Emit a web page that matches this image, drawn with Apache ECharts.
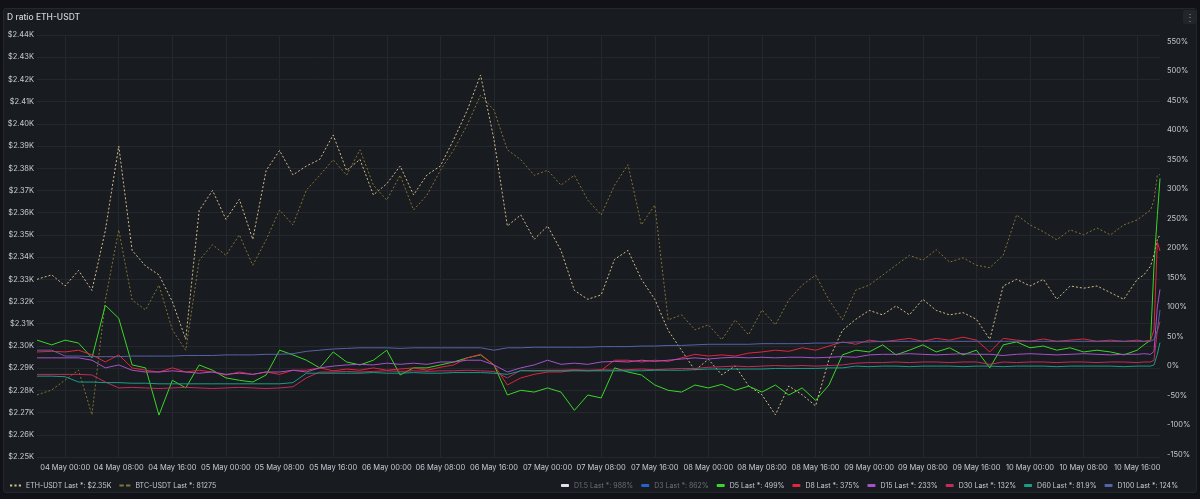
<!DOCTYPE html>
<html>
<head>
<meta charset="utf-8">
<script src="https://cdn.jsdelivr.net/npm/echarts@6/dist/echarts.min.js"></script>
<style>
  html, body { margin: 0; padding: 0; background: #111217; }
  #panel { position: absolute; left: 3px; top: 8px; width: 1192px; height: 483px;
           background: #181b1f; border: 1px solid #24272d; border-radius: 3px; }
  #menu { position: absolute; left: 1183px; top: 10px; width: 13px; height: 14px;
          background: #22252b; border-radius: 2px; color: #8e9199; font: 10px Inter;
          text-align: center; line-height: 14px; }
  #chart { position: absolute; left: 0; top: 0; width: 1200px; height: 499px; }
</style>
</head>
<body>
<div id="panel"></div>
<div id="menu">&#8942;</div>
<div id="chart"></div>
<script>
// hours since 04 May 00:00
var hours = [-4.2, -2, 0, 2, 4, 6, 8, 10, 12, 14, 16, 18, 20, 22, 24, 26, 28, 30, 32, 34, 36, 38, 40,
  42, 44, 46, 48, 50, 52, 54, 56, 58, 60, 62, 64, 66, 68, 70, 72, 74, 76, 78, 80, 82, 84, 86, 88, 90,
  92, 94, 96, 98, 100, 102, 104, 106, 108, 110, 112, 114, 116, 118, 120, 122, 124, 126, 128, 130,
  132, 134, 136, 138, 140, 142, 144, 146, 148, 150, 152, 154, 156, 158, 160, 161, 162, 162.5, 163, 163.4];

var ethUsdt = [2330, 2332, 2327, 2334, 2325, 2352, 2390, 2343, 2336, 2332, 2320, 2303, 2361, 2370,
  2357, 2366, 2348, 2379, 2388, 2377, 2381, 2384, 2395, 2379, 2384, 2368, 2373, 2381, 2368, 2377,
  2381, 2393, 2406, 2422, 2393, 2354, 2359, 2348, 2354, 2343, 2325, 2321, 2323, 2339, 2343, 2330,
  2321, 2307, 2298, 2289, 2294, 2287, 2291, 2282, 2278, 2269, 2282, 2278, 2273, 2294, 2307, 2312,
  2316, 2314, 2318, 2314, 2321, 2316, 2314, 2315, 2312, 2303, 2327, 2330, 2327, 2330, 2321, 2327,
  2326, 2327, 2324, 2321, 2330, 2332, 2336, 2341, 2348, 2350];

var btcUsdt = [79500, 79540, 79620, 79700, 79340, 80265, 80830, 80265, 80185, 80385, 80025, 79860,
  80585, 80710, 80625, 80790, 80545, 80750, 80990, 80870, 81150, 81270, 81395, 81270, 81475, 81190,
  81070, 81270, 80990, 81110, 81310, 81475, 81675, 81915, 81795, 81475, 81395, 81270, 81310, 81190,
  81270, 81070, 80950, 81190, 81355, 80870, 81030, 80105, 80145, 80025, 80065, 79945, 80105, 79985,
  80185, 80065, 80265, 80385, 80465, 80265, 80105, 80345, 80385, 80465, 80545, 80625, 80585, 80670,
  80570, 80605, 80545, 80525, 80625, 80950, 80870, 80815, 80750, 80830, 80790, 80845, 80790, 80870,
  80910, 80950, 80990, 81070, 81270, 81275];

var d5 = [44, 36, 44, 39, 14, 103, 81, 2, -3, -83, -24, -37, 2, -7, -20, -24, -27, -15, 27, 19, 10,
  -3, 24, 7, 2, 10, 27, -15, -3, -3, 2, 7, 14, 19, 2, -49, -41, -44, -37, -44, -75, -49, -54, -3,
  -10, -15, -32, -41, -44, -32, -37, -31, -41, -34, -44, -32, -49, -37, -58, -32, 19, 27, 24, 36,
  19, 27, 36, 24, 31, 19, 27, -3, 36, 41, 31, 34, 27, 31, 24, 27, 24, 19, 27, 36, 44, 170, 255, 318];

var d8 = [24, 25, 24, 27, 19, 7, 19, -3, -7, -10, -3, -10, -7, -10, -15, -10, -14, -10, -14, -7, -7,
  -3, -8, -5, -7, -3, -7, -5, -3, -7, -2, 2, 14, 20, 2, -32, -20, -14, -10, -10, -7, -8, -7, 10, 10,
  7, 10, 8, 14, 20, 17, 19, 17, 22, 24, 27, 25, 31, 27, 34, 41, 37, 44, 41, 44, 47, 42, 47, 44, 49,
  44, 24, 47, 44, 42, 46, 42, 44, 46, 42, 44, 42, 44, 42, 44, 61, 210, 195];

var d15 = [14, 14, 14, 14, 10, -3, 2, -7, -10, -10, -8, -10, -12, -10, -14, -12, -14, -10, -10, -7,
  -10, -3, 0, 2, 3, 2, 5, 3, 5, 3, 7, 7, 10, 10, 2, -10, -3, 2, 10, 3, 5, 3, 7, 8, 7, 10, 8, 10, 12,
  14, 12, 14, 15, 14, 15, 14, 15, 15, 14, 15, 16, 15, 19, 20, 20, 21, 20, 19, 20, 21, 20, 20, 18,
  20, 21, 20, 19, 20, 21, 20, 19, 20, 20, 21, 20, 25, 100, 130];

var d30 = [-14, -14, -14, -14, -15, -27, -37, -36, -37, -38, -37, -36, -37, -38, -37, -36, -37, -38,
  -37, -35, -20, -10, -10, -9, -10, -9, -8, -9, -8, -9, -8, -8, -7, -8, -9, -20, -7, -8, -7, -7, -6,
  -7, -6, -7, -6, -5, -6, -5, -4, -4, -2, -1, 0, -1, 0, 1, 0, 1, 0, 1, 2, 5, 6, 6, 7, 6, 7, 7, 6, 7,
  7, 3, 7, 6, 7, 7, 6, 7, 7, 6, 7, 7, 6, 7, 7, 10, 60, 75];

var d60 = [-17, -17, -18, -27, -27, -28, -28, -29, -29, -30, -30, -30, -30, -30, -30, -30, -30, -30,
  -30, -28, -12, -12, -12, -12, -12, -11, -12, -12, -11, -12, -12, -11, -11, -11, -12, -14, -8, -8,
  -8, -8, -8, -8, -8, -8, -8, -8, -7, -7, -7, -6, -5, -5, -5, -5, -5, -4, -4, -4, -4, -3, -3, 0, -1,
  0, 0, -1, 0, 0, 0, -1, 0, 0, -1, 0, 0, 0, -1, 0, 0, 0, 0, -1, 0, 0, 0, 2, 20, 40];

var d100 = [27, 27, 17, 17, 16, 16, 16, 17, 17, 17, 17, 18, 18, 18, 19, 19, 19, 20, 20, 21, 25, 27,
  29, 30, 31, 31, 31, 30, 31, 31, 31, 31, 31, 31, 27, 31, 31, 32, 32, 32, 32, 32, 33, 33, 33, 34, 34,
  35, 35, 36, 37, 37, 37, 37, 38, 38, 38, 38, 39, 39, 40, 41, 41, 42, 42, 42, 42, 42, 42, 42, 42, 42,
  42, 42, 42, 42, 42, 42, 42, 42, 42, 42, 42, 42, 42, 45, 60, 95];

// hidden in the panel: only their last values are shown in the legend
var d1_5 = [[163.4, 988]];
var d3 = [[163.4, 862]];

var xTickHours = [0, 8, 16, 24, 32, 40, 48, 56, 64, 72, 80, 88, 96, 104, 112, 120, 128, 136, 144, 152, 160];
var pctTicks = [-150, -100, -50, 0, 50, 100, 150, 200, 250, 300, 350, 400, 450, 500, 550];
var lastLabels = {
  'ETH-USDT': '$2.35K', 'BTC-USDT': '81275', 'D1.5': '988%', 'D3': '862%', 'D5': '499%',
  'D8': '375%', 'D15': '233%', 'D30': '132%', 'D60': '81.9%', 'D100': '124%'
};

var font = 'Inter';
var txt = '#c7cad3';
var grid = '#24272c';

function pairs(vals) {
  return hours.map(function (h, i) { return [h, vals[i]]; });
}

function hourLabel(h) {
  var day = 4 + Math.floor(h / 24);
  var hh = h % 24;
  return (day < 10 ? '0' : '') + day + ' May ' + (hh < 10 ? '0' : '') + hh + ':00';
}

function line(name, data, color, axis, dash) {
  return {
    name: name, type: 'line', yAxisIndex: axis, data: data, showSymbol: false, symbol: 'none',
    color: color, lineStyle: { width: 1, color: color, type: dash || 'solid' }, animation: false
  };
}

function legendLabel(n) {
  return n + ' Last *: ' + lastLabels[n];
}

var legendText = { fontFamily: font, fontSize: 7, color: txt };

var chart = echarts.init(document.getElementById('chart'));
chart.setOption({
  backgroundColor: 'transparent',
  animation: false,
  title: {
    text: 'D ratio ETH-USDT', left: 7, top: 13, padding: 0,
    textStyle: { fontFamily: font, fontSize: 8.5, fontWeight: 500, color: '#d0d3dc' }
  },
  grid: { left: 37, right: 40, top: 35, bottom: 42 },
  legend: [{
    left: 5, top: 477, itemWidth: 11, itemHeight: 3, itemGap: 8, selectedMode: false,
    textStyle: legendText, formatter: legendLabel,
    data: [
      { name: 'ETH-USDT', icon: 'path://M0,0h2v2h-2z M4,0h2v2h-2z M8,0h2v2h-2z' },
      { name: 'BTC-USDT', icon: 'path://M0,0h4v2h-4z M6,0h4v2h-4z' }
    ]
  }, {
    right: 17, top: 477, itemWidth: 8, itemHeight: 3, itemGap: 8, icon: 'roundRect', selectedMode: false,
    textStyle: legendText, formatter: legendLabel,
    data: [
      { name: 'D1.5', textStyle: { color: '#6c6f78' } },
      { name: 'D3', textStyle: { color: '#6c6f78' } },
      'D5', 'D8', 'D15', 'D30', 'D60', 'D100'
    ]
  }],
  xAxis: {
    type: 'value', min: -4.2, max: 163.4,
    axisLine: { show: false },
    axisTick: { show: false, customValues: xTickHours },
    axisLabel: {
      customValues: xTickHours, formatter: hourLabel, margin: 7,
      fontFamily: font, fontSize: 7.5, color: txt
    },
    splitLine: { show: true, lineStyle: { color: grid, width: 1 } }
  },
  yAxis: [{
    type: 'value', position: 'left', min: 2250, max: 2440, interval: 10,
    axisLine: { show: false }, axisTick: { show: false },
    axisLabel: {
      margin: 3, fontFamily: font, fontSize: 7.5, color: txt,
      formatter: function (v) { return '$' + (v / 1000).toFixed(2) + 'K'; }
    },
    splitLine: { lineStyle: { color: grid, width: 1 } }
  }, {
    type: 'value', position: 'right', min: -154, max: 561,
    axisLine: { show: false }, axisTick: { show: false },
    axisLabel: {
      customValues: pctTicks, margin: 7, fontFamily: font, fontSize: 7.5, color: txt,
      formatter: function (v) { return v + '%'; }
    },
    splitLine: { show: false }
  }, {
    type: 'value', show: false, min: 79000, max: 82400
  }],
  series: [
    line('ETH-USDT', pairs(ethUsdt), '#d4bd8c', 0, [2, 2]),
    line('BTC-USDT', pairs(btcUsdt), '#857436', 2, [2, 2]),
    line('D1.5', d1_5, '#e4def0', 1),
    line('D3', d3, '#2563c9', 1),
    line('D5', pairs(d5), '#3bd62a', 1),
    line('D8', pairs(d8), '#e1273b', 1),
    line('D15', pairs(d15), '#a553c9', 1),
    line('D30', pairs(d30), '#c42c5a', 1),
    line('D60', pairs(d60), '#1d9c88', 1),
    line('D100', pairs(d100), '#5564a8', 1)
  ]
});
</script>
</body>
</html>
